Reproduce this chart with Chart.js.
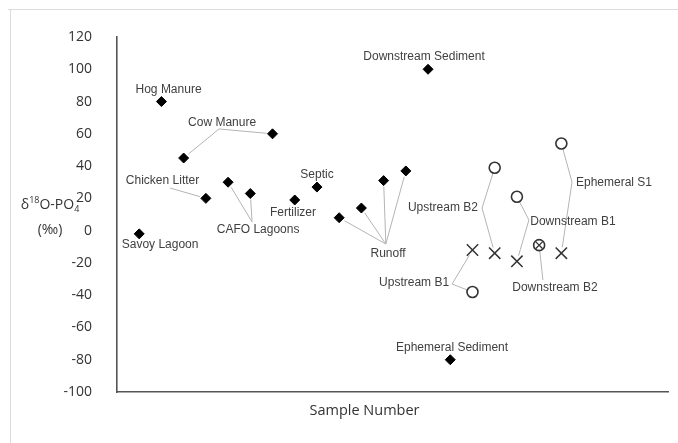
<!DOCTYPE html>
<html>
<head>
<meta charset="utf-8">
<script src="https://cdn.jsdelivr.net/npm/chart.js@4/dist/chart.umd.min.js"></script>
<style>
  html, body { margin: 0; padding: 0; background: #ffffff; }
  #wrap { width: 678px; height: 443px; position: relative; }
</style>
</head>
<body>
<div id="wrap"><canvas id="c" width="678" height="443"></canvas></div>
<script>
// Potential phosphate sources (filled diamonds)
const sourceSamples = [1, 2, 3, 4, 5, 6, 7, 8, 9, 10, 11, 12, 13, 14, 15];
const sourceNames = ['Savoy Lagoon', 'Hog Manure', 'Cow Manure', 'Chicken Litter', 'CAFO Lagoons',
  'CAFO Lagoons', 'Cow Manure', 'Fertilizer', 'Septic', 'Runoff', 'Runoff', 'Runoff', 'Runoff',
  'Downstream Sediment', 'Ephemeral Sediment'];
const sourceValues = [-2, 80, 45, 20, 30, 23, 60, 19, 27, 8, 14, 31, 37, 100, -80];

// Stream sites: open circles and crosses share a sample number
const streamSamples = [16, 17, 18, 20];
const streamNames = ['Upstream B1', 'Upstream B2', 'Downstream B1', 'Ephemeral S1'];
const circleValues = [-38, 39, 21, 54];
const crossValues = [-12, -14, -19, -14];

// Site where circle and cross coincide
const mixedSamples = [19];
const mixedNames = ['Downstream B2'];
const mixedValues = [-9];

// Y axis
const yMin = -100, yMax = 120, yStep = 20;

// Label placement in data units; anchor = where leader lines start
const labelLayout = [
  { text: 'Hog Manure', at: [2.32, 87.2] },
  { text: 'Cow Manure', at: [4.73, 66.7], anchor: [4.59, 63.0] },
  { text: 'Chicken Litter', at: [2.05, 30.8], anchor: [2.39, 26.4] },
  { text: 'CAFO Lagoons', at: [6.35, 0.4], anchor: [6.08, 5.4] },
  { text: 'Fertilizer', at: [7.92, 10.9] },
  { text: 'Septic', at: [9.0, 34.5] },
  { text: 'Runoff', at: [12.2, -14.5], anchor: [12.1, -8.3] },
  { text: 'Downstream Sediment', at: [13.82, 107.6] },
  { text: 'Ephemeral Sediment', at: [15.08, -72.7] },
  { text: 'Upstream B1', at: [13.37, -32.4], anchor: [15.08, -33.1] },
  { text: 'Upstream B2', at: [14.67, 14.0], anchor: [16.43, 14.0] },
  { text: 'Downstream B1', at: [20.52, 5.4], anchor: [18.54, 6.6] },
  { text: 'Downstream B2', at: [19.71, -35.5], anchor: [19.17, -30.6] },
  { text: 'Ephemeral S1', at: [22.37, 29.5], anchor: [20.48, 30.1] },
  { text: 'Savoy Lagoon', at: [1.94, -8.5] }
];

const toPoints = (xs, ys) => xs.map((x, i) => ({ x: x, y: ys[i] }));

const annotate = {
  id: 'annotate',
  beforeDraw(chart) {
    const ctx = chart.ctx;
    ctx.save();
    ctx.strokeStyle = '#dcdcdc';
    ctx.lineWidth = 1;
    ctx.beginPath();
    ctx.moveTo(8, 9.5); ctx.lineTo(678, 9.5);
    ctx.moveTo(10.5, 9); ctx.lineTo(10.5, 443);
    ctx.stroke();
    ctx.restore();
  },
  beforeDatasetsDraw(chart) {
    const ctx = chart.ctx;
    const xs = chart.scales.x, ys = chart.scales.y;
    ctx.save();
    ctx.strokeStyle = '#b4b4b4';
    ctx.lineWidth = 1;
    labelLayout.forEach(l => {
      if (!l.anchor) return;
      const ax = xs.getPixelForValue(l.anchor[0]);
      const ay = ys.getPixelForValue(l.anchor[1]);
      const seen = new Set();
      chart.data.datasets.forEach((ds, di) => {
        const meta = chart.getDatasetMeta(di);
        meta.data.forEach((el, pi) => {
          if (ds.names[pi] !== l.text) return;
          const key = Math.round(el.x) + ',' + Math.round(el.y);
          if (seen.has(key)) return;
          seen.add(key);
          const dx = el.x - ax, dy = el.y - ay;
          const d = Math.hypot(dx, dy);
          const trim = 6;
          if (d <= trim) return;
          ctx.beginPath();
          ctx.moveTo(ax, ay);
          ctx.lineTo(el.x - dx / d * trim, el.y - dy / d * trim);
          ctx.stroke();
        });
      });
    });
    ctx.restore();
  },
  afterDatasetsDraw(chart) {
    const ctx = chart.ctx;
    const xs = chart.scales.x, ys = chart.scales.y;
    ctx.save();
    ctx.font = '12px "Liberation Sans", Arial, sans-serif';
    ctx.fillStyle = '#404040';
    ctx.textAlign = 'center';
    ctx.textBaseline = 'middle';
    labelLayout.forEach(l => {
      ctx.fillText(l.text, xs.getPixelForValue(l.at[0]), ys.getPixelForValue(l.at[1]));
    });

    // Y axis title: δ18O-PO4 (‰)
    const big = '14px "Open Sans", sans-serif';
    const small = '9px "Open Sans", sans-serif';
    const parts = [
      { t: 'δ', f: big, dy: 0 },
      { t: '18', f: small, dy: -5 },
      { t: 'O-PO', f: big, dy: 0 },
      { t: '4', f: small, dy: 4 }
    ];
    let total = 0;
    parts.forEach(p => { ctx.font = p.f; p.w = ctx.measureText(p.t).width; total += p.w; });
    const cx = 50, cy = 205;
    let x = cx - total / 2;
    ctx.fillStyle = '#333333';
    ctx.textAlign = 'left';
    ctx.textBaseline = 'middle';
    parts.forEach(p => { ctx.font = p.f; ctx.fillText(p.t, x, cy + p.dy); x += p.w; });
    ctx.font = big;
    ctx.textAlign = 'center';
    ctx.fillText('(‰)', cx, 230);

    // X axis title
    ctx.font = '14.5px "Open Sans", sans-serif';
    ctx.fillText('Sample Number', (chart.chartArea.left + chart.chartArea.right) / 2 - 28, 411);
    ctx.restore();
  }
};

new Chart(document.getElementById('c'), {
  type: 'scatter',
  data: {
    datasets: [
      {
        label: 'Sources',
        names: sourceNames,
        data: toPoints(sourceSamples, sourceValues),
        order: 0,
        pointStyle: 'rectRot',
        pointRadius: 5,
        backgroundColor: '#000000',
        borderColor: '#000000',
        borderWidth: 1
      },
      {
        label: 'Stream (circle)',
        names: streamNames,
        data: toPoints(streamSamples, circleValues),
        order: 1,
        pointStyle: 'circle',
        pointRadius: 5.5,
        backgroundColor: '#ffffff',
        borderColor: '#333333',
        borderWidth: 1.6
      },
      {
        label: 'Stream (cross)',
        names: streamNames,
        data: toPoints(streamSamples, crossValues),
        order: 2,
        pointStyle: 'crossRot',
        pointRadius: 8,
        backgroundColor: '#333333',
        borderColor: '#333333',
        borderWidth: 1.5
      },
      {
        label: 'Mixed (cross)',
        names: mixedNames,
        data: toPoints(mixedSamples, mixedValues),
        order: 3,
        pointStyle: 'crossRot',
        pointRadius: 5,
        backgroundColor: '#333333',
        borderColor: '#333333',
        borderWidth: 1.3
      },
      {
        label: 'Mixed (circle)',
        names: mixedNames,
        data: toPoints(mixedSamples, mixedValues),
        order: 4,
        pointStyle: 'circle',
        pointRadius: 5.5,
        backgroundColor: '#ffffff',
        borderColor: '#333333',
        borderWidth: 1.6
      }
    ]
  },
  options: {
    responsive: false,
    animation: false,
    events: [],
    devicePixelRatio: 1,
    layout: { padding: { top: 37, right: 10, left: 0, bottom: 0 } },
    plugins: {
      legend: { display: false },
      tooltip: { enabled: false }
    },
    scales: {
      x: {
        type: 'linear',
        min: 0,
        max: 24.8,
        grid: { display: false },
        ticks: { display: false },
        border: { display: true, color: '#555555', width: 1.6 },
        afterFit(scale) { scale.height = 51; }
      },
      y: {
        min: yMin,
        max: yMax,
        grid: { display: false },
        border: { display: true, color: '#555555', width: 1.6 },
        ticks: {
          stepSize: yStep,
          padding: 17,
          color: '#333333',
          font: { family: '"Open Sans", sans-serif', size: 14 }
        },
        afterFit(scale) { scale.width = 117; }
      }
    }
  },
  plugins: [annotate]
});
</script>
</body>
</html>
